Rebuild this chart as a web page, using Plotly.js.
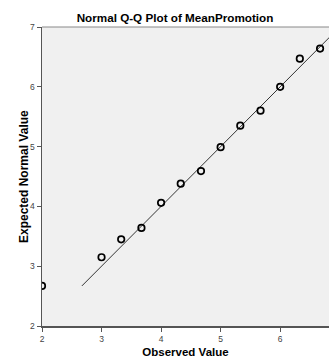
<!DOCTYPE html>
<html><head><meta charset="utf-8">
<script src="https://cdn.plot.ly/plotly-3.0.1.min.js"></script>
<style>html,body{margin:0;padding:0;background:#fff;}#chart{width:329px;height:358px;}</style>
</head><body><div id="chart"></div>
<script>
const observed = [2.0, 3.0, 3.33, 3.67, 4.0, 4.33, 4.67, 5.0, 5.33, 5.67, 6.0, 6.33, 6.67];
const expected = [2.67, 3.15, 3.45, 3.64, 4.06, 4.38, 4.59, 4.99, 5.35, 5.60, 6.00, 6.47, 6.64];
const refLineX = [2.67, 6.9];
const refLineY = [2.67, 6.9];
const xTicks = [2, 3, 4, 5, 6];
const yTicks = [2, 3, 4, 5, 6, 7];

const traces = [
  {x: refLineX, y: refLineY, mode: 'lines', line: {color: '#333', width: 1}, hoverinfo: 'skip'},
  {x: observed, y: expected, mode: 'markers',
   marker: {symbol: 'circle-open', size: 6.5, color: '#000', line: {width: 1.7, color: '#000'}}}
];
const layout = {
  width: 329, height: 358,
  margin: {l: 42, r: 0, t: 27, b: 32},
  paper_bgcolor: '#fff', plot_bgcolor: '#f0f0f0',
  showlegend: false,
  font: {family: 'Arial, Liberation Sans, sans-serif', color: '#000'},
  title: {text: 'Normal Q-Q Plot of MeanPromotion', font: {size: 11.7, color: '#000', weight: 'bold'},
          x: 175/329, xanchor: 'center', xref: 'container', y: 1 - 18/358, yanchor: 'middle', yref: 'container'},
  xaxis: {range: [2, 6.82], tickvals: xTicks, ticktext: xTicks.map(String), showgrid: false, zeroline: false,
          showline: true, linecolor: '#555', linewidth: 1.5, ticks: 'outside', ticklen: 4, tickcolor: '#555',
          tickfont: {size: 8.5, color: '#444'},
          title: {text: 'Observed Value', font: {size: 11.5, color: '#000', weight: 'bold'}, standoff: 8}},
  yaxis: {range: [2, 7], tickvals: yTicks, ticktext: yTicks.map(String), showgrid: false, zeroline: false,
          showline: true, linecolor: '#555', linewidth: 1.5, ticks: 'outside', ticklen: 4, tickcolor: '#555',
          tickfont: {size: 8.5, color: '#444'}},
  shapes: [{type: 'line', xref: 'paper', yref: 'paper', x0: 0, x1: 1, y0: 1, y1: 1, line: {color: '#888', width: 1}}],
  annotations: [{text: 'Expected Normal Value', xref: 'paper', yref: 'paper', x: -42/287, xanchor: 'left',
                 y: 1 - (177-27)/299, yanchor: 'middle', textangle: -90, showarrow: false,
                 xshift: 15, font: {size: 12, color: '#000', weight: 'bold'}}]
};
Plotly.newPlot('chart', traces, layout, {displayModeBar: false, staticPlot: true});
</script></body></html>
